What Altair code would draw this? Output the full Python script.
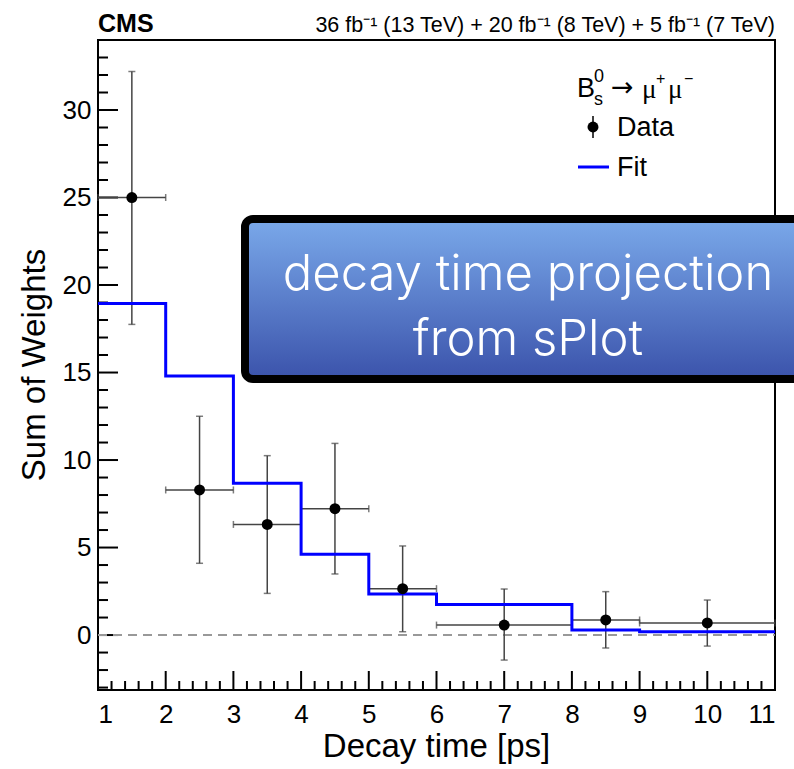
import altair as alt
import pandas as pd

# ---------------- data ----------------
t_center = [1.5, 2.5, 3.5, 4.5, 5.5, 7.0, 8.5, 10.0]
t_low = [1, 2, 3, 4, 5, 6, 8, 9]
t_high = [2, 3, 4, 5, 6, 8, 9, 11]
weights = [25.0, 8.29, 6.32, 7.22, 2.65, 0.57, 0.86, 0.69]
err_up = [32.2, 12.5, 10.25, 10.95, 5.09, 2.63, 2.48, 2.0]
err_down = [17.75, 4.1, 2.38, 3.49, 0.19, -1.43, -0.74, -0.63]

fit_edges = [1, 2, 3, 4, 5, 6, 8, 9, 11]
fit_values = [18.95, 14.8, 8.67, 4.61, 2.34, 1.75, 0.29, 0.19, 0.19]

x_ticks_major = list(range(1, 12))
y_ticks_major = [0, 5, 10, 15, 20, 25, 30]
x_ticks_minor = [round(1 + 0.2 * i, 1) for i in range(51) if i % 5]
y_ticks_minor = [v for v in range(-3, 35) if v % 5]

X_DOMAIN = [1, 11]
Y_DOMAIN = [-3.14, 34.0]

W, H = 677, 650
FONT = "Liberation Sans"

pts = pd.DataFrame({"t": t_center, "lo": t_low, "hi": t_high, "w": weights,
                    "up": err_up, "dn": err_down})
fit = pd.DataFrame({"e": fit_edges, "v": fit_values})
one = pd.DataFrame({"a": [0]})

xs = alt.Scale(domain=X_DOMAIN, nice=False, zero=False)
ys = alt.Scale(domain=Y_DOMAIN, nice=False, zero=False)
xaxis = alt.Axis(values=x_ticks_major, ticks=False, domain=False, grid=False,
                 labelFontSize=26, labelPadding=11, title=None, format="d",
                 labelFont=FONT, labelColor="black")
yaxis = alt.Axis(values=y_ticks_major, ticks=False, domain=False, grid=False,
                 labelFontSize=26, labelPadding=7, title=None, format="d",
                 labelFont=FONT, labelColor="black")


def X(f):
    return alt.X(f, type="quantitative", scale=xs, axis=xaxis)


def Y(f):
    return alt.Y(f, type="quantitative", scale=ys, axis=yaxis)


ERR = "#444444"

# inside ticks (ROOT style)
ymaj = alt.Chart(pd.DataFrame({"v": y_ticks_major})).mark_rule(color="black", strokeWidth=2).encode(
    y=Y("v"), x=alt.value(0), x2=alt.value(20))
ymin = alt.Chart(pd.DataFrame({"v": y_ticks_minor})).mark_rule(color="black", strokeWidth=2).encode(
    y=Y("v"), x=alt.value(0), x2=alt.value(10))
xmaj = alt.Chart(pd.DataFrame({"v": x_ticks_major})).mark_rule(color="black", strokeWidth=2).encode(
    x=X("v"), y=alt.value(H), y2=alt.value(H - 19))
xmin = alt.Chart(pd.DataFrame({"v": x_ticks_minor})).mark_rule(color="black", strokeWidth=2).encode(
    x=X("v"), y=alt.value(H), y2=alt.value(H - 9))

zero = alt.Chart(pd.DataFrame({"z": [0]})).mark_rule(
    color="#999999", strokeDash=[9, 6], strokeWidth=2).encode(
    y=Y("z"), x=alt.value(0), x2=alt.value(W))

vbar = alt.Chart(pts).mark_rule(color=ERR, strokeWidth=1.5).encode(x=X("t"), y=Y("dn"), y2="up")
hbar = alt.Chart(pts).mark_rule(color=ERR, strokeWidth=1.5).encode(x=X("lo"), x2="hi", y=Y("w"))
cap_up = alt.Chart(pts).mark_tick(orient="horizontal", size=7, thickness=1.5, color=ERR).encode(x=X("t"), y=Y("up"))
cap_dn = alt.Chart(pts).mark_tick(orient="horizontal", size=7, thickness=1.5, color=ERR).encode(x=X("t"), y=Y("dn"))
cap_lo = alt.Chart(pts).mark_tick(orient="vertical", size=7, thickness=1.5, color=ERR).encode(x=X("lo"), y=Y("w"))
cap_hi = alt.Chart(pts).mark_tick(orient="vertical", size=7, thickness=1.5, color=ERR).encode(x=X("hi"), y=Y("w"))

fitline = alt.Chart(fit).mark_line(interpolate="step-after", color="#0000ff", strokeWidth=3).encode(
    x=X("e"), y=Y("v"))

dots = alt.Chart(pts).mark_circle(size=120, color="black", opacity=1).encode(x=X("t"), y=Y("w"))


def label(text, x, y, size, weight="normal", align="left", font=FONT, color="black", angle=0,
          baseline="alphabetic"):
    kw = dict(text=text, fontSize=size, fontWeight=weight, align=align, font=font,
              color=color, baseline=baseline)
    if angle:
        kw["angle"] = angle
    return alt.Chart(one).mark_text(**kw).encode(x=alt.value(x), y=alt.value(y))


# header
hdr_cms = label("CMS", 0, -8, 25, weight="bold")
hdr_lumi = label("36 fb\u207b\u00b9 (13 TeV) + 20 fb\u207b\u00b9 (8 TeV) + 5 fb\u207b\u00b9 (7 TeV)",
                 W, -8, 21.5, align="right")

# axis titles
ytitle = label("Sum of Weights", -63, H / 2, 33, align="center", angle=270, baseline="middle")
xtitle = label("Decay time [ps]", W / 2, 717, 33, align="center")

# legend
leg = [
    label("B", 479, 57, 27),
    label("0", 496, 42, 18),
    label("s", 496, 65, 18),
    label("\u2192", 513, 56, 27, font="DejaVu Sans"),
    label("\u03bc", 544, 58, 27, font="Liberation Serif"),
    label("+", 558, 44, 16),
    label("\u03bc", 570, 58, 27, font="Liberation Serif"),
    label("\u2212", 586, 44, 16),
    label("Data", 519, 96, 27),
    label("Fit", 519, 136, 27),
]
leg_bar = alt.Chart(one).mark_rule(color="black", strokeWidth=1.5).encode(
    x=alt.value(495), y=alt.value(76), y2=alt.value(98))
leg_dot = alt.Chart(one).mark_circle(size=120, color="black", opacity=1).encode(
    x=alt.value(495), y=alt.value(87))
leg_fit = alt.Chart(one).mark_rule(color="#0000ff", strokeWidth=3).encode(
    x=alt.value(480), x2=alt.value(511), y=alt.value(127))

# overlay annotation box
grad = alt.Gradient(gradient="linear",
                    stops=[alt.GradientStop(color="#7aa9ea", offset=0),
                           alt.GradientStop(color="#3b53ab", offset=1)],
                    x1=0, x2=0, y1=0, y2=1)
box = alt.Chart(one).mark_rect(fill=grad, stroke="black", strokeWidth=8, cornerRadius=8,
                               strokeJoin="round").encode(
    x=alt.value(147), x2=alt.value(730), y=alt.value(179), y2=alt.value(339))
box_t1 = label("decay time projection", 430, 250, 49, weight=300, align="center",
               font="Inter", color="white")
box_t2 = label("from sPlot", 430, 315, 49, weight=300, align="center",
               font="Inter", color="white")

chart = alt.layer(
    ymin, ymaj, xmin, xmaj, zero,
    vbar, hbar, cap_up, cap_dn, cap_lo, cap_hi,
    fitline, dots,
    hdr_cms, hdr_lumi, ytitle, xtitle,
    *leg, leg_bar, leg_dot, leg_fit,
    box, box_t1, box_t2,
).properties(
    width=W, height=H,
    autosize=alt.AutoSizeParams(type="none"),
    padding={"left": 98, "top": 40, "right": 19, "bottom": 79},
    background="white",
).configure_view(stroke="black", strokeWidth=2)

chart.save("out.html", embed_options={"renderer": "svg", "actions": False})
